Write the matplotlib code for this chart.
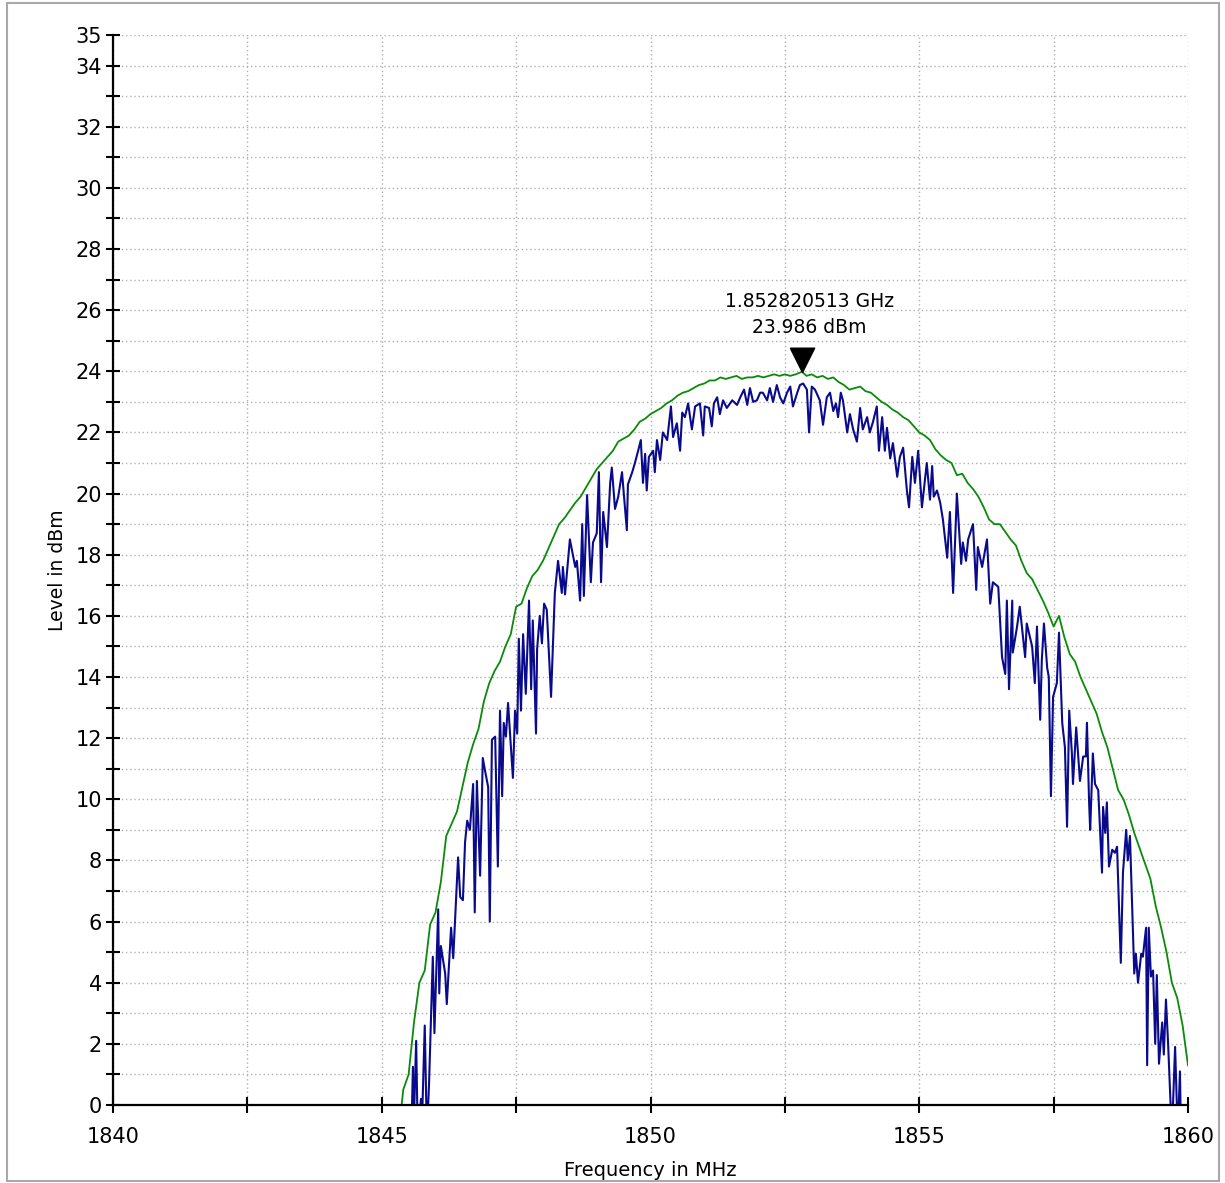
import numpy as np
import matplotlib
matplotlib.use("Agg")
import matplotlib.pyplot as plt
from matplotlib.ticker import FixedLocator, FuncFormatter
from matplotlib.patches import Rectangle

plt.rcParams['font.family'] = ['DejaVu Sans']

# max hold trace (MHz, dBm)
max_freq = [1845.37, 1845.40, 1845.50, 1845.60, 1845.70, 1845.80, 1845.90, 1846.00, 1846.10,
            1846.20, 1846.30, 1846.40, 1846.50, 1846.60, 1846.70, 1846.80, 1846.90, 1847.00,
            1847.10, 1847.20, 1847.30, 1847.40, 1847.50, 1847.60, 1847.70, 1847.80, 1847.90,
            1848.00, 1848.10, 1848.20, 1848.30, 1848.40, 1848.50, 1848.60, 1848.70, 1848.80,
            1848.90, 1849.00, 1849.10, 1849.20, 1849.30, 1849.40, 1849.50, 1849.60, 1849.70,
            1849.80, 1849.90, 1850.00, 1850.10, 1850.20, 1850.30, 1850.40, 1850.50, 1850.60,
            1850.70, 1850.80, 1850.90, 1851.00, 1851.10, 1851.20, 1851.30, 1851.40, 1851.50,
            1851.60, 1851.70, 1851.80, 1851.90, 1852.00, 1852.10, 1852.20, 1852.30, 1852.40,
            1852.50, 1852.60, 1852.70, 1852.82, 1852.90, 1853.00, 1853.10, 1853.20, 1853.30,
            1853.40, 1853.50, 1853.60, 1853.70, 1853.80, 1853.90, 1854.00, 1854.10, 1854.20,
            1854.30, 1854.40, 1854.50, 1854.60, 1854.70, 1854.80, 1854.90, 1855.00, 1855.10,
            1855.20, 1855.30, 1855.40, 1855.50, 1855.60, 1855.70, 1855.80, 1855.90, 1856.00,
            1856.10, 1856.20, 1856.30, 1856.40, 1856.50, 1856.60, 1856.70, 1856.80, 1856.90,
            1857.00, 1857.10, 1857.20, 1857.30, 1857.40, 1857.50, 1857.60, 1857.70, 1857.80,
            1857.90, 1858.00, 1858.10, 1858.20, 1858.30, 1858.40, 1858.50, 1858.60, 1858.70,
            1858.80, 1858.90, 1859.00, 1859.10, 1859.20, 1859.30, 1859.40, 1859.50, 1859.60,
            1859.70, 1859.80, 1859.90, 1860.00]
max_level = [0.0, 0.5, 1.0, 2.7, 4.0, 4.4, 5.9, 6.3, 7.3,
             8.8, 9.2, 9.6, 10.4, 11.2, 11.8, 12.3, 13.2, 13.8,
             14.2, 14.5, 15.0, 15.4, 16.3, 16.4, 16.9, 17.3, 17.5,
             17.8, 18.2, 18.6, 19.0, 19.2, 19.45, 19.7, 19.9, 20.2,
             20.5, 20.8, 21.0, 21.2, 21.4, 21.7, 21.8, 21.9, 22.1,
             22.35, 22.45, 22.6, 22.7, 22.8, 22.95, 23.05, 23.2, 23.3,
             23.35, 23.45, 23.55, 23.6, 23.7, 23.7, 23.8, 23.75, 23.8,
             23.85, 23.75, 23.8, 23.8, 23.85, 23.8, 23.85, 23.9, 23.85,
             23.9, 23.85, 23.9, 23.986, 23.85, 23.9, 23.8, 23.85, 23.75,
             23.8, 23.65, 23.55, 23.4, 23.45, 23.5, 23.35, 23.3, 23.15,
             23.0, 22.9, 22.75, 22.65, 22.5, 22.4, 22.2, 22.0, 21.9,
             21.75, 21.45, 21.25, 21.1, 21.0, 20.6, 20.65, 20.35, 20.15,
             19.9, 19.55, 19.15, 19.0, 19.0, 18.75, 18.5, 18.3, 17.8,
             17.4, 17.2, 16.85, 16.5, 16.1, 15.65, 16.0, 15.3, 14.75,
             14.5, 14.0, 13.6, 13.2, 12.8, 12.2, 11.7, 11.0, 10.3,
             10.0, 9.5, 8.9, 8.4, 7.9, 7.4, 6.5, 5.8, 5.0,
             4.0, 3.5, 2.6, 1.3]

# clear write trace (MHz, dBm)
clr_freq = [1845.55, 1845.58, 1845.59, 1845.64, 1845.67, 1845.73, 1845.75, 1845.80, 1845.84,
            1845.88, 1845.95, 1845.98, 1846.05, 1846.07, 1846.10, 1846.18, 1846.21, 1846.29,
            1846.33, 1846.42, 1846.46, 1846.51, 1846.55, 1846.59, 1846.64, 1846.70, 1846.73,
            1846.77, 1846.83, 1846.88, 1846.92, 1846.98, 1847.01, 1847.05, 1847.11, 1847.16,
            1847.20, 1847.24, 1847.27, 1847.31, 1847.35, 1847.44, 1847.48, 1847.52, 1847.55,
            1847.59, 1847.63, 1847.68, 1847.74, 1847.78, 1847.81, 1847.87, 1847.89, 1847.94,
            1847.98, 1848.02, 1848.07, 1848.15, 1848.22, 1848.28, 1848.35, 1848.37, 1848.41,
            1848.50, 1848.60, 1848.63, 1848.69, 1848.73, 1848.76, 1848.82, 1848.89, 1848.93,
            1849.00, 1849.04, 1849.08, 1849.12, 1849.19, 1849.25, 1849.28, 1849.34, 1849.40,
            1849.47, 1849.56, 1849.58, 1849.66, 1849.71, 1849.77, 1849.82, 1849.86, 1849.90,
            1849.93, 1849.97,
            1850.05, 1850.08, 1850.12, 1850.18, 1850.23, 1850.31, 1850.38, 1850.42, 1850.49,
            1850.55, 1850.59, 1850.64, 1850.70, 1850.77, 1850.83, 1850.92, 1850.98, 1851.01,
            1851.09, 1851.14, 1851.18, 1851.24, 1851.29, 1851.35, 1851.42, 1851.52, 1851.61,
            1851.67, 1851.74, 1851.80, 1851.85, 1851.91, 1851.98, 1852.04, 1852.09, 1852.17,
            1852.22, 1852.28, 1852.35, 1852.41, 1852.47, 1852.54, 1852.60, 1852.65, 1852.73,
            1852.78, 1852.84, 1852.91, 1852.95, 1853.00, 1853.06, 1853.15, 1853.21, 1853.28,
            1853.34, 1853.40, 1853.45, 1853.49, 1853.54, 1853.58, 1853.66, 1853.71, 1853.77,
            1853.84, 1853.90, 1853.95, 1854.03, 1854.08, 1854.14, 1854.21, 1854.25, 1854.31,
            1854.36, 1854.40, 1854.46, 1854.51, 1854.59, 1854.64, 1854.70, 1854.77, 1854.81,
            1854.87, 1854.92, 1854.98, 1855.05, 1855.14, 1855.20, 1855.24, 1855.27, 1855.33,
            1855.39, 1855.44, 1855.52, 1855.57, 1855.63, 1855.70, 1855.78, 1855.81, 1855.87,
            1855.91, 1856.00, 1856.06, 1856.09, 1856.17, 1856.26, 1856.32, 1856.37, 1856.47,
            1856.54, 1856.60, 1856.63, 1856.67, 1856.73, 1856.74, 1856.82, 1856.87, 1856.97,
            1857.00, 1857.10, 1857.15, 1857.19, 1857.25, 1857.28, 1857.32, 1857.38, 1857.41,
            1857.45, 1857.49, 1857.56, 1857.60, 1857.66, 1857.71, 1857.75, 1857.79, 1857.84,
            1857.86, 1857.92, 1857.99, 1858.05, 1858.10, 1858.12, 1858.16, 1858.18, 1858.23,
            1858.27, 1858.33, 1858.40, 1858.42, 1858.46, 1858.49, 1858.53, 1858.59, 1858.64,
            1858.68, 1858.75, 1858.79, 1858.85, 1858.88, 1858.92, 1858.96, 1859.00, 1859.03,
            1859.07, 1859.13, 1859.16, 1859.22, 1859.24, 1859.27, 1859.31, 1859.35, 1859.39,
            1859.42, 1859.46, 1859.52, 1859.55, 1859.59, 1859.63, 1859.70, 1859.76, 1859.81,
            1859.85, 1859.87]
clr_level = [-1.0, 1.25, -1.0, 2.1, -1.0, 0.2, -0.5, 2.6, -1.0,
             0.7, 4.85, 2.35, 6.4, 3.65, 5.2, 4.3, 3.3, 5.8,
             4.8, 8.1, 6.8, 6.7, 8.6, 9.3, 9.0, 10.5, 6.3,
             10.6, 7.5, 11.35, 10.95, 10.4, 6.0, 11.95, 12.05, 7.8,
             12.9, 10.1, 12.5, 12.05, 13.15, 10.7, 12.9, 12.15, 15.25,
             12.9, 15.4, 13.45, 16.5, 13.6, 15.85, 12.15, 14.9, 16.0,
             15.1, 16.4, 16.2, 13.35, 16.75, 17.8, 16.75, 17.6, 16.7,
             18.5, 17.6, 17.8, 16.5, 19.0, 16.65, 19.95, 17.1, 18.4,
             18.7, 20.7, 17.1, 19.4, 18.25, 20.35, 20.85, 19.5, 19.9,
             20.7, 18.8, 20.3, 20.7, 21.0, 21.4, 21.75, 20.35, 21.3,
             20.1, 21.2,
             21.4, 20.7, 21.75, 21.1, 22.0, 21.75, 22.85, 21.85, 22.3,
             21.4, 22.65, 22.5, 22.95, 22.1, 22.85, 22.95, 21.9, 22.85,
             22.8, 22.2, 22.95, 23.15, 22.6, 23.05, 22.8, 23.05, 22.9,
             23.15, 23.4, 22.9, 23.45, 23.0, 23.05, 23.3, 23.3, 23.05,
             23.45, 23.0, 23.55, 23.15, 22.95, 23.3, 23.5, 22.85, 23.3,
             23.55, 23.6, 23.4, 22.0, 23.5, 23.4, 23.05, 22.25, 23.15,
             23.3, 22.7, 22.95, 22.5, 23.3, 23.05, 22.0, 22.6, 22.1,
             21.7, 22.8, 22.1, 22.5, 22.0, 22.35, 22.85, 21.4, 22.5,
             21.4, 22.15, 21.15, 21.65, 20.55, 21.2, 21.5, 20.1, 19.55,
             21.2, 20.35, 21.4, 19.55, 21.0, 19.8, 20.9, 19.9, 20.1,
             19.7, 19.15, 17.9, 19.4, 16.75, 20.0, 17.7, 18.4, 17.8,
             18.5, 19.0, 16.85, 18.25, 17.6, 18.5, 16.4, 17.1, 16.95,
             14.65, 14.1, 16.5, 13.6, 16.5, 14.8, 15.65, 16.3, 14.65,
             15.75, 15.0, 13.8, 15.65, 12.6, 14.55, 15.75, 14.3, 14.0,
             10.1, 13.35, 13.8, 15.45, 12.5, 11.7, 9.1, 12.9, 11.5,
             10.5, 12.35, 10.6, 11.4, 11.4, 12.5, 9.9, 9.0, 11.5,
             10.5, 10.3, 7.6, 9.75, 8.9, 9.9, 7.8, 8.35, 8.25,
             8.45, 4.65, 7.6, 9.0, 8.0, 8.8, 6.6, 4.3, 4.95,
             4.0, 4.95, 4.85, 5.8, 1.3, 5.8, 4.2, 4.4, 2.0,
             4.25, 1.35, 2.7, 1.65, 3.45, 2.0, -1.0, 1.9, -1.0,
             1.1, -1.0]

peak_freq = 1852.820513
peak_level = 23.986

x_major = [1840, 1845, 1850, 1855, 1860]
x_ticks = [1840, 1842.5, 1845, 1847.5, 1850, 1852.5, 1855, 1857.5, 1860]
y_ticks = list(range(0, 36))
y_labelled = [0, 2, 4, 6, 8, 10, 12, 14, 16, 18, 20, 22, 24, 26, 28, 30, 32, 34, 35]

fig = plt.figure(figsize=(12.25, 11.83), dpi=100)
ax = fig.add_axes([113 / 1225, 1 - 1105 / 1183, 1075 / 1225, 1070 / 1183])

# frame around the whole figure
fig.patches.append(Rectangle((7 / 1225, 2 / 1183), 1212 / 1225, 1178 / 1183,
                             transform=fig.transFigure, fill=False,
                             edgecolor='#a8a8a8', linewidth=1.5))

ax.plot(max_freq, max_level, color='#0a8a0a', linewidth=1.3, zorder=3)
ax.plot(clr_freq, clr_level, color='#0a0a8c', linewidth=1.5, zorder=4)

# peak marker, tip on the peak
tri = [(-0.5, 1.0), (0.5, 1.0), (0.0, 0.0), (-0.5, 1.0)]
ax.plot([peak_freq], [peak_level], marker=tri, markersize=35, color='black',
        linestyle='none', zorder=5, clip_on=False)
ax.annotate(f"{peak_freq / 1000:.9f} GHz\n{peak_level:.3f} dBm",
            xy=(peak_freq, peak_level), xytext=(5, 25), textcoords='offset points',
            ha='center', va='bottom', fontsize=13.5, linespacing=1.45)

ax.set_xlim(1840, 1860)
ax.set_ylim(0, 35)

ax.xaxis.set_major_locator(FixedLocator(x_ticks))
ax.xaxis.set_major_formatter(FuncFormatter(lambda v, p: f"{v:.0f}" if v in x_major else ""))
ax.yaxis.set_major_locator(FixedLocator(y_ticks))
ax.yaxis.set_major_formatter(FuncFormatter(lambda v, p: f"{v:.0f}" if round(v) in y_labelled else ""))

ax.tick_params(axis='x', direction='inout', length=12, width=1.5, pad=10, labelsize=15)
ax.tick_params(axis='y', direction='inout', length=10, width=1.5, pad=3, labelsize=15)

ax.grid(True, color='#b0b0b0', linestyle=(0, (1, 2)), linewidth=1.0)
ax.set_axisbelow(True)

for side in ['top', 'right']:
    ax.spines[side].set_visible(False)
for side in ['left', 'bottom']:
    ax.spines[side].set_linewidth(1.6)
    ax.spines[side].set_zorder(6)

ax.set_xlabel("Frequency in MHz", fontsize=14, labelpad=10)
ax.set_ylabel("Level in dBm", fontsize=13.5, labelpad=6)

fig.savefig("out.png", dpi=100)
